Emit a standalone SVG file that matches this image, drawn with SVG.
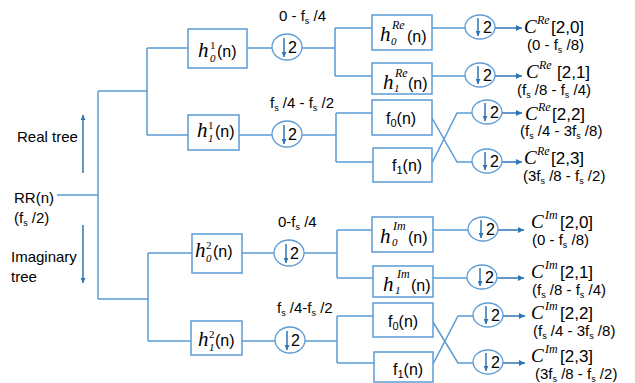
<svg xmlns="http://www.w3.org/2000/svg" width="635" height="383" viewBox="0 0 635 383">
<defs>
<style>
.ln{stroke:#5b9bd5;stroke-width:1.5;fill:none}
.box{fill:#fff;stroke:#5b9bd5;stroke-width:1.5}
.ds{fill:#fff;stroke:#5b9bd5;stroke-width:1.3}
.arr{stroke:#2e75b6;stroke-width:1.5;fill:none;marker-end:url(#ah)}
.darr{stroke:#2e75b6;stroke-width:1.5;fill:none;marker-end:url(#ahs)}
.t{font-family:"Liberation Sans",Arial,sans-serif;font-size:15px;fill:#000}
.bt{font-family:"Liberation Sans",Arial,sans-serif;font-size:16px;fill:#000}
.two{font-family:"Liberation Sans",Arial,sans-serif;font-size:16px;fill:#000}
.m{font-family:"Liberation Serif","DejaVu Serif",serif;font-style:italic;font-size:21px;fill:#000}
.cm{font-family:"Liberation Serif","DejaVu Serif",serif;font-style:italic;font-size:19px;fill:#000}
.sm{font-family:"Liberation Serif","DejaVu Serif",serif;font-style:italic;font-size:12px;fill:#000}
.dg{font-family:"Liberation Serif","DejaVu Serif",serif;font-size:11px;fill:#000}
.dgi{font-family:"Liberation Serif","DejaVu Serif",serif;font-style:italic;font-size:11px;fill:#000}
.csup{font-family:"Liberation Serif","DejaVu Serif",serif;font-style:italic;font-size:12px;fill:#000}
.br{font-family:"Liberation Sans",Arial,sans-serif;font-size:17px;fill:#000}
.s{font-size:9px}
.fs{font-size:11px}
</style>
<marker id="ah" viewBox="0 0 10 10" refX="10" refY="5" markerUnits="userSpaceOnUse" markerWidth="7" markerHeight="6" orient="auto"><path d="M0,0 L10,5 L0,10 z" fill="#2e75b6"/></marker>
<marker id="ahs" viewBox="0 0 10 10" refX="10" refY="5" markerUnits="userSpaceOnUse" markerWidth="5" markerHeight="5" orient="auto"><path d="M0,0 L10,5 L0,10 z" fill="#2e75b6"/></marker>
</defs>
<rect width="635" height="383" fill="#fff"/>

<g id="connectors">
<path class="ln" d="M57,195 H98 M98,91 V299 M98,91 H147 M147,48 V135 M147,48 H188 M147,135 H188 M98,299 H148 M148,253 V341 M148,253 H192 M148,341 H191"/>
<path class="ln" d="M247,48 H272 M239,135 H272 M242,253 H274 M242,341 H275"/>
<path class="ln" d="M302,48 H335 M335,28 V76 M335,28 H372 M335,76 H372"/>
<path class="ln" d="M302,135 H336 M336,113 V162 M336,113 H372 M336,162 H373"/>
<path class="ln" d="M304,253 H337 M337,230 V278 M337,230 H372 M337,278 H373"/>
<path class="ln" d="M305,341 H337 M337,316 V363 M337,316 H373 M337,363 H374"/>
<path class="ln" d="M432,28 H465 M432,76 H465 M432,118 L457,162 H472 M432,163 L457,113 H472"/>
<path class="ln" d="M433,230 H468 M433,278 H467 M433,322 L458,363 H473 M433,364 L458,316 H473"/>
<path class="arr" d="M495,28 H522"/>
<path class="arr" d="M495,76 H522"/>
<path class="arr" d="M502,113 H522"/>
<path class="arr" d="M502,162 H522"/>
<path class="arr" d="M498,230 H524"/>
<path class="arr" d="M497,278 H524"/>
<path class="arr" d="M503,316 H525"/>
<path class="arr" d="M503,363 H525"/>
<path class="darr" d="M83,173 V115"/>
<path class="darr" d="M83,225 V283"/>
</g>

<g id="input"><text class="t" x="14" y="203">RR(n)</text><text class="t" x="14" y="223">(f<tspan class="s" dy="3">s</tspan><tspan dy="-3"> /2)</tspan></text></g>
<g id="label-real"><text class="t" x="17" y="142">Real tree</text></g>
<g id="label-imag"><text class="t" x="11" y="262">Imaginary</text><text class="t" x="11" y="282">tree</text></g>

<g id="band-labels">
<text class="t" x="279" y="21">0 - f<tspan class="s" dy="3">s</tspan><tspan dy="-3"> /4</tspan></text>
<text class="t" x="270" y="108">f<tspan class="s" dy="3">s</tspan><tspan dy="-3"> /4 - f</tspan><tspan class="s" dy="3">s</tspan><tspan dy="-3"> /2</tspan></text>
<text class="t" x="278" y="227">0-f<tspan class="s" dy="3">s</tspan><tspan dy="-3"> /4</tspan></text>
<text class="t" x="277" y="313">f<tspan class="s" dy="3">s</tspan><tspan dy="-3"> /4-f</tspan><tspan class="s" dy="3">s</tspan><tspan dy="-3"> /2</tspan></text>
</g>

<g id="h01"><rect class="box" x="188" y="29" width="59" height="39"/><text class="m" x="198" y="57">h</text><text class="dg" x="210" y="49">1</text><text class="dgi" x="210" y="62">0</text><text class="bt" x="217" y="57">(n)</text></g>
<g id="h11"><rect class="box" x="188" y="115" width="51" height="35"/><text class="m" x="197" y="137">h</text><text class="dg" x="208" y="129">1</text><text class="dgi" x="208" y="142">1</text><text class="bt" x="215" y="137">(n)</text></g>
<g id="h02"><rect class="box" x="192" y="234" width="50" height="39"/><text class="m" x="195" y="257">h</text><text class="dg" x="206" y="249">2</text><text class="dgi" x="206" y="262">0</text><text class="bt" x="213" y="257">(n)</text></g>
<g id="h12"><rect class="box" x="191" y="321" width="51" height="34"/><text class="m" x="198" y="346">h</text><text class="dg" x="209" y="338">2</text><text class="dgi" x="209" y="351">1</text><text class="bt" x="215" y="346">(n)</text></g>

<g id="h0Re"><rect class="box" x="372" y="15" width="60" height="35"/><text class="m" x="380" y="41">h</text><text class="sm" x="392" y="29">Re</text><text class="dgi" x="391" y="45">0</text><text class="bt" x="407" y="42">(n)</text></g>
<g id="h1Re"><rect class="box" x="372" y="63" width="60" height="31"/><text class="m" x="383" y="89">h</text><text class="sm" x="395" y="77">Re</text><text class="dgi" x="394" y="92">1</text><text class="bt" x="408" y="89">(n)</text></g>
<g id="f0Re"><rect class="box" x="372" y="100" width="60" height="35"/><text class="bt" x="386" y="124">f<tspan class="fs" dy="3">0</tspan><tspan dy="-3">(n)</tspan></text></g>
<g id="f1Re"><rect class="box" x="373" y="148" width="59" height="34"/><text class="bt" x="392" y="171">f<tspan class="fs" dy="3">1</tspan><tspan dy="-3">(n)</tspan></text></g>

<g id="h0Im"><rect class="box" x="372" y="217" width="61" height="35"/><text class="m" x="380" y="243">h</text><text class="sm" x="393" y="230">Im</text><text class="dgi" x="392" y="246">0</text><text class="bt" x="408" y="243">(n)</text></g>
<g id="h1Im"><rect class="box" x="373" y="266" width="60" height="31"/><text class="m" x="383" y="291">h</text><text class="sm" x="397" y="278">Im</text><text class="dgi" x="395" y="294">1</text><text class="bt" x="411" y="291">(n)</text></g>
<g id="f0Im"><rect class="box" x="373" y="303" width="60" height="34"/><text class="bt" x="388" y="327">f<tspan class="fs" dy="3">0</tspan><tspan dy="-3">(n)</tspan></text></g>
<g id="f1Im"><rect class="box" x="374" y="352" width="59" height="30"/><text class="bt" x="393" y="375">f<tspan class="fs" dy="3">1</tspan><tspan dy="-3">(n)</tspan></text></g>

<g id="ds1"><ellipse class="ds" cx="287" cy="47" rx="15" ry="13"/><path class="darr" d="M284,38 V57"/><text class="two" x="288" y="53">2</text></g>
<g id="ds2"><ellipse class="ds" cx="287" cy="134" rx="15" ry="13"/><path class="darr" d="M284,125 V144"/><text class="two" x="288" y="140">2</text></g>
<g id="ds3"><ellipse class="ds" cx="289" cy="253" rx="15" ry="13"/><path class="darr" d="M286,244 V263"/><text class="two" x="290" y="259">2</text></g>
<g id="ds4"><ellipse class="ds" cx="290" cy="340" rx="15" ry="13"/><path class="darr" d="M287,331 V350"/><text class="two" x="291" y="346">2</text></g>

<g id="dsR1"><ellipse class="ds" cx="480" cy="27" rx="15" ry="12"/><path class="darr" d="M478,18 V36"/><text class="two" x="483" y="33">2</text></g>
<g id="dsR2"><ellipse class="ds" cx="480" cy="75" rx="15" ry="12"/><path class="darr" d="M478,66 V84"/><text class="two" x="483" y="81">2</text></g>
<g id="dsR3"><ellipse class="ds" cx="487" cy="112" rx="15" ry="12"/><path class="darr" d="M485,103 V121"/><text class="two" x="490" y="118">2</text></g>
<g id="dsR4"><ellipse class="ds" cx="487" cy="161" rx="15" ry="12"/><path class="darr" d="M485,152 V170"/><text class="two" x="490" y="167">2</text></g>

<g id="dsI1"><ellipse class="ds" cx="483" cy="229" rx="15" ry="12"/><path class="darr" d="M481,220 V238"/><text class="two" x="486" y="235">2</text></g>
<g id="dsI2"><ellipse class="ds" cx="482" cy="277" rx="15" ry="12"/><path class="darr" d="M480,268 V286"/><text class="two" x="485" y="283">2</text></g>
<g id="dsI3"><ellipse class="ds" cx="488" cy="315" rx="15" ry="12"/><path class="darr" d="M486,306 V324"/><text class="two" x="491" y="321">2</text></g>
<g id="dsI4"><ellipse class="ds" cx="488" cy="362" rx="15" ry="12"/><path class="darr" d="M486,353 V371"/><text class="two" x="491" y="368">2</text></g>

<g id="outRe0"><text class="cm" x="524" y="33">C</text><text class="csup" x="537" y="24">Re</text><text class="br" x="551" y="33">[2,0]</text><text class="t" x="527" y="50">(0 - f<tspan class="s" dy="3">s</tspan><tspan dy="-3"> /8)</tspan></text></g>
<g id="outRe1"><text class="cm" x="526" y="78">C</text><text class="csup" x="539" y="69">Re</text><text class="br" x="557" y="78">[2,1]</text><text class="t" x="517" y="95">(f<tspan class="s" dy="3">s</tspan><tspan dy="-3"> /8 - f</tspan><tspan class="s" dy="3">s</tspan><tspan dy="-3"> /4)</tspan></text></g>
<g id="outRe2"><text class="cm" x="525" y="120">C</text><text class="csup" x="538" y="111">Re</text><text class="br" x="552" y="120">[2,2]</text><text class="t" x="520" y="136">(f<tspan class="s" dy="3">s</tspan><tspan dy="-3"> /4 - 3f</tspan><tspan class="s" dy="3">s</tspan><tspan dy="-3"> /8)</tspan></text></g>
<g id="outRe3"><text class="cm" x="524" y="164">C</text><text class="csup" x="537" y="155">Re</text><text class="br" x="551" y="164">[2,3]</text><text class="t" x="523" y="181">(3f<tspan class="s" dy="3">s</tspan><tspan dy="-3"> /8 - f</tspan><tspan class="s" dy="3">s</tspan><tspan dy="-3"> /2)</tspan></text></g>

<g id="outIm0"><text class="cm" x="531" y="228">C</text><text class="csup" x="545" y="219">Im</text><text class="br" x="560" y="228">[2,0]</text><text class="t" x="532" y="245">(0 - f<tspan class="s" dy="3">s</tspan><tspan dy="-3"> /8)</tspan></text></g>
<g id="outIm1"><text class="cm" x="531" y="278">C</text><text class="csup" x="545" y="269">Im</text><text class="br" x="560" y="278">[2,1]</text><text class="t" x="532" y="295">(f<tspan class="s" dy="3">s</tspan><tspan dy="-3"> /8 - f</tspan><tspan class="s" dy="3">s</tspan><tspan dy="-3"> /4)</tspan></text></g>
<g id="outIm2"><text class="cm" x="531" y="319">C</text><text class="csup" x="545" y="310">Im</text><text class="br" x="560" y="319">[2,2]</text><text class="t" x="533" y="336">(f<tspan class="s" dy="3">s</tspan><tspan dy="-3"> /4 - 3f</tspan><tspan class="s" dy="3">s</tspan><tspan dy="-3"> /8)</tspan></text></g>
<g id="outIm3"><text class="cm" x="531" y="362">C</text><text class="csup" x="545" y="353">Im</text><text class="br" x="560" y="362">[2,3]</text><text class="t" x="535" y="379">(3f<tspan class="s" dy="3">s</tspan><tspan dy="-3"> /8 - f</tspan><tspan class="s" dy="3">s</tspan><tspan dy="-3"> /2)</tspan></text></g>
</svg>
